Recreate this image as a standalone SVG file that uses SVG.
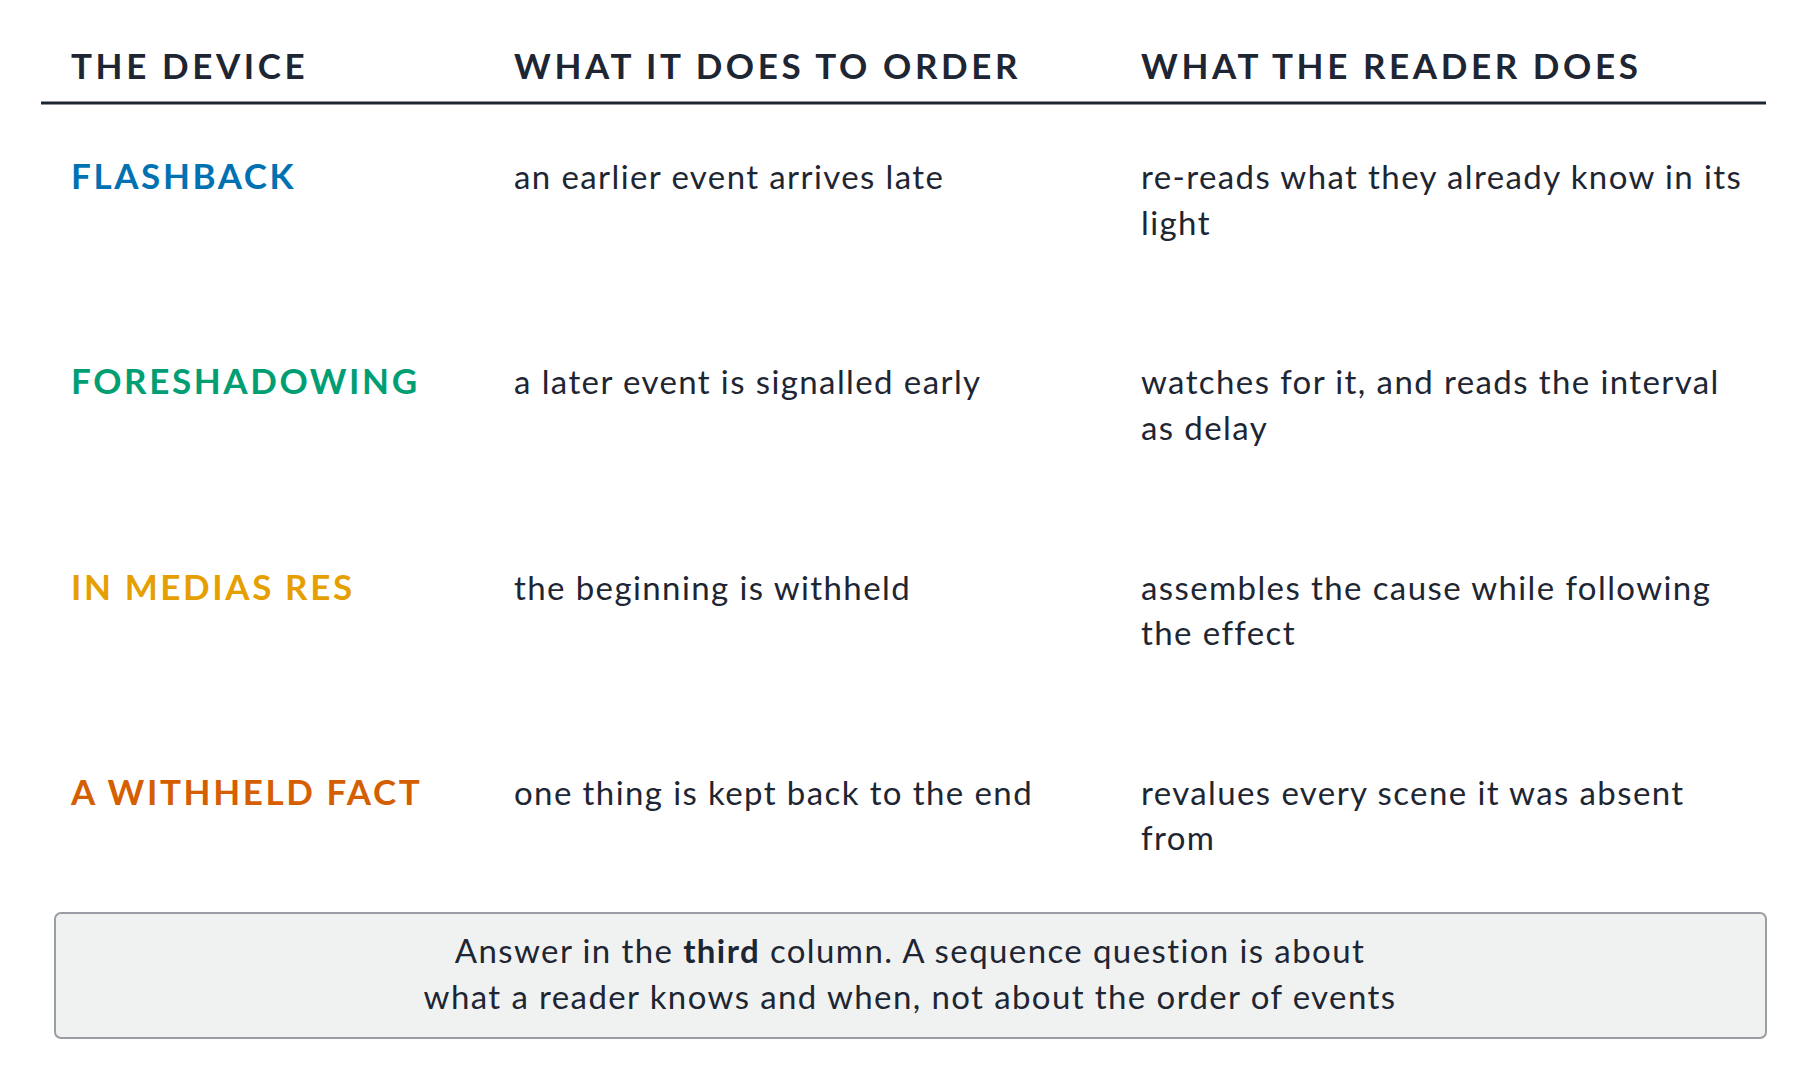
<svg xmlns="http://www.w3.org/2000/svg" width="1813" height="1075" viewBox="0 0 1813 1075">
<style>
text{font-family:Lato,"Open Sans",sans-serif;fill:#1e2633;font-size:33px;letter-spacing:1.4px}
.h{font-weight:bold;font-size:35px;letter-spacing:3.6px}
.d{font-weight:bold;font-size:35px;letter-spacing:2.6px}
</style>
<rect width="1813" height="1075" fill="#fff"/>
<g id="header">
<text class="h" x="71" y="79">THE DEVICE</text>
<text class="h" x="514" y="79">WHAT IT DOES TO ORDER</text>
<text class="h" x="1141" y="79">WHAT THE READER DOES</text>
<line x1="41" y1="103" x2="1766" y2="103" stroke="#1e2633" stroke-width="3"/>
</g>
<g id="row1">
<text class="d" x="71" y="189" style="fill:#0072b2">FLASHBACK</text>
<text x="514" y="189">an earlier event arrives late</text>
<text x="1141" y="189">re-reads what they already know in its</text>
<text x="1141" y="235">light</text>
</g>
<g id="row2">
<text class="d" x="71" y="394" style="fill:#009e73">FORESHADOWING</text>
<text x="514" y="394">a later event is signalled early</text>
<text x="1141" y="394">watches for it, and reads the interval</text>
<text x="1141" y="440">as delay</text>
</g>
<g id="row3">
<text class="d" x="71" y="600" style="fill:#e69f00">IN MEDIAS RES</text>
<text x="514" y="600">the beginning is withheld</text>
<text x="1141" y="600">assembles the cause while following</text>
<text x="1141" y="645">the effect</text>
</g>
<g id="row4">
<text class="d" x="71" y="805" style="fill:#d55e00">A WITHHELD FACT</text>
<text x="514" y="805">one thing is kept back to the end</text>
<text x="1141" y="805">revalues every scene it was absent</text>
<text x="1141" y="850">from</text>
</g>
<g id="note">
<rect x="55" y="913" width="1711" height="125" rx="6" fill="#f0f2f1" stroke="#9a9da3" stroke-width="2"/>
<text x="910" y="963" text-anchor="middle">Answer in the <tspan font-weight="bold">third</tspan> column. A sequence question is about</text>
<text x="910" y="1009" text-anchor="middle">what a reader knows and when, not about the order of events</text>
</g>
</svg>
